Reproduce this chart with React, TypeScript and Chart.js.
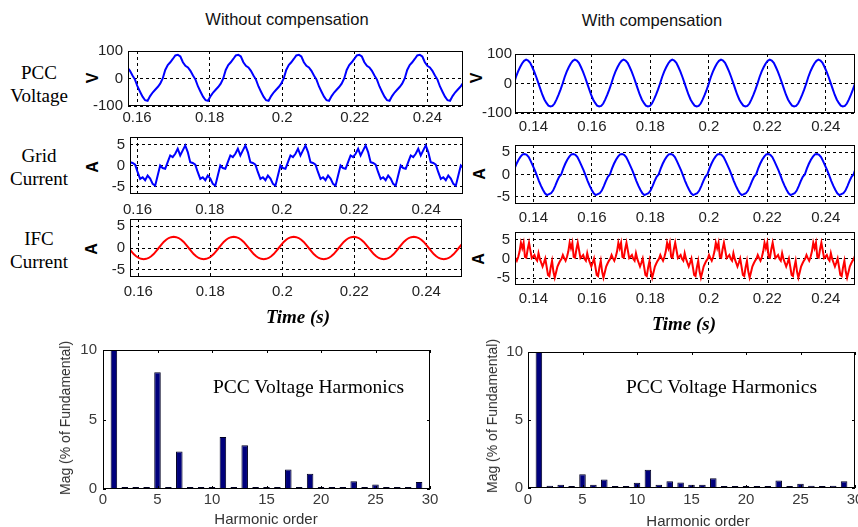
import React, { useEffect, useRef } from 'react';
import { Chart, registerables } from 'chart.js';

Chart.register(...registerables);

// ---------- DATA ----------
const leftTimeTicks = [0.16, 0.18, 0.2, 0.22, 0.24];
const rightTimeTicks = [0.14, 0.16, 0.18, 0.2, 0.22, 0.24];
const voltageTicks = [-100, 0, 100];
const currentTicks = [-5, 0, 5];
const harmonicTicks = [0, 5, 10, 15, 20, 25, 30];
const magnitudeTicks = [0, 5, 10];

const FUNDAMENTAL_PERIOD = 1 / 60; // s (steady-state waveforms repeat every cycle)

// Without compensation: one read-off cycle per waveform (samples evenly spaced over a cycle)
const pccVoltageNoCompStart = 0.2004;
const pccVoltageNoComp = [0, 31, 49, 59, 71, 84, 86, 80, 59, 46, 40, 28, 11, -4, -29, -48, -66, -79, -81, -64, -51, -41, -31, -19];
const gridCurrentNoCompStart = 0.1996;
const gridCurrentNoComp = [0, -0.6, -0.8, 0.8, 2.4, 2.0, 2.8, 4.0, 2.4, 3.6, 4.8, 3.2, 0.8, 0.6, 0.2, -1.6, -3.2, -2.8, -3.5, -2.4, -3.1, -4.4, -4.8, -2.4];
const ifcCurrentNoCompStart = 0.199;
const ifcCurrentNoComp = [0, 0.7, 1.4, 1.9, 2.3, 2.5, 2.6, 2.5, 2.3, 1.9, 1.4, 0.7, 0, -0.7, -1.4, -1.9, -2.3, -2.5, -2.6, -2.5, -2.3, -1.9, -1.4, -0.7];

// With compensation
const pccVoltageCompStart = 0.2;
const pccVoltageComp = [0, 22, 40, 55, 68, 77, 81, 78, 70, 56, 40, 22, 2, -18, -38, -54, -66, -75, -78, -76, -68, -54, -38, -20];
const gridCurrentCompStart = 0.1995;
const gridCurrentComp = [0, 1.3, 2.4, 3.3, 4.0, 4.5, 4.6, 4.4, 3.9, 3.0, 2.0, 1.0, -0.2, -1.4, -2.5, -3.4, -4.2, -4.6, -4.4, -4.2, -3.6, -2.6, -1.5, -0.5];
const ifcCurrentCompStart = 0.201;
const ifcCurrentComp = [-0.5, 0.5, 1.9, 4.2, 2.8, 4.2, 0.5, 0.3, 2.5, 4.2, 2.2, 0.2, 0.6, 1.0, 0.0, -0.5, 1.5, 0.0, -1.0, -2.0, -1.0, 0.1, -2.0, -4.2, -4.5, -2.2, -0.5, -3.3, -4.9, -3.5, -2.0, -1.2, -0.5, 0.0, 1.0, 0.2];

// Harmonic spectra (% of fundamental)
const harmonicOrders = [1, 2, 3, 4, 5, 6, 7, 8, 9, 10, 11, 12, 13, 14, 15, 16, 17, 18, 19, 20, 21, 22, 23, 24, 25, 26, 27, 28, 29];
const magNoComp = [100, 0.05, 0.05, 0.05, 8.4, 0.05, 2.7, 0.05, 0.05, 0.05, 3.75, 0.05, 3.15, 0.05, 0.05, 0.05, 1.4, 0.05, 1.1, 0.05, 0.05, 0.05, 0.55, 0.05, 0.32, 0.05, 0.05, 0.05, 0.5];
const magComp = [100, 0.17, 0.24, 0.1, 1.02, 0.24, 0.63, 0.15, 0.15, 0.39, 1.34, 0.24, 0.49, 0.41, 0.24, 0.24, 0.71, 0.15, 0.15, 0.1, 0.15, 0.1, 0.56, 0.1, 0.32, 0.17, 0.1, 0.17, 0.49];

// ---------- HELPERS ----------
const SANS = "'Liberation Sans', Arial, Helvetica, sans-serif";
const SERIF = "'Liberation Serif', 'Times New Roman', Times, serif";

function periodicSeries(cycle: number[], start: number, xMin: number, xMax: number) {
  const n = cycle.length;
  const dt = FUNDAMENTAL_PERIOD / n;
  const iMin = Math.floor((xMin - start) / dt) - 1;
  const iMax = Math.ceil((xMax - start) / dt) + 1;
  const pts: { x: number; y: number }[] = [];
  for (let i = iMin; i <= iMax; i++) {
    pts.push({ x: start + i * dt, y: cycle[((i % n) + n) % n] });
  }
  return pts;
}

const framePlugin = {
  id: 'frame',
  afterDraw(chart: any, _args: any, opts: any) {
    const { ctx, chartArea: a } = chart;
    ctx.save();
    ctx.setLineDash([]);
    ctx.strokeStyle = '#000';
    ctx.lineWidth = 1;
    if (opts && opts.inwardTicks) {
      const L = 3;
      const xs = chart.scales.x;
      const ys = chart.scales.y;
      ctx.beginPath();
      xs.ticks.forEach((t: any) => {
        const px = Math.round(xs.getPixelForValue(t.value)) + 0.5;
        ctx.moveTo(px, a.bottom);
        ctx.lineTo(px, a.bottom - L);
        ctx.moveTo(px, a.top);
        ctx.lineTo(px, a.top + L);
      });
      ys.ticks.forEach((t: any) => {
        const py = Math.round(ys.getPixelForValue(t.value)) + 0.5;
        ctx.moveTo(a.left, py);
        ctx.lineTo(a.left + L, py);
        ctx.moveTo(a.right, py);
        ctx.lineTo(a.right - L, py);
      });
      ctx.stroke();
    }
    ctx.strokeRect(a.left + 0.5, a.top + 0.5, a.right - a.left - 1, a.bottom - a.top - 1);
    ctx.restore();
  },
};

type Layout = {
  box: [number, number, number, number];
  yW: number;
  padTop: number;
  padRight: number;
  xH: number;
  xPad: number;
  yPad: number;
};

function axisCommon(ticksArr: number[], fontSize: number, color: string, pad: number, isX: boolean, lay: Layout, gridOn: boolean) {
  return {
    type: 'linear',
    afterBuildTicks: (s: any) => {
      s.ticks = ticksArr.map((v) => ({ value: v }));
    },
    afterFit: (s: any) => {
      if (isX) {
        s.height = lay.xH;
        s.paddingLeft = 0;
        s.paddingRight = 0;
      } else {
        s.width = lay.yW;
        s.paddingTop = 0;
        s.paddingBottom = 0;
      }
    },
    grid: { display: gridOn, color: '#000', lineWidth: 1, drawTicks: false, offset: false },
    border: { display: false, dash: [3, 3] },
    ticks: {
      padding: pad,
      color,
      font: { family: SANS, size: fontSize },
      maxRotation: 0,
      autoSkip: false,
      callback: (v: any) => String(v),
    },
  };
}

function lineConfig(lay: Layout, pts: any[], color: string, xr: [number, number], yr: [number, number], xTicks: number[], yTicks: number[]) {
  const x: any = axisCommon(xTicks, 15, '#222', lay.xPad, true, lay, true);
  x.min = xr[0];
  x.max = xr[1];
  const y: any = axisCommon(yTicks, 15, '#222', lay.yPad, false, lay, true);
  y.min = yr[0];
  y.max = yr[1];
  return {
    type: 'line',
    data: {
      datasets: [
        { data: pts, borderColor: color, borderWidth: 2, pointRadius: 0, tension: 0, fill: false, clip: 0 },
      ],
    },
    options: {
      animation: false,
      responsive: false,
      devicePixelRatio: 1,
      layout: { padding: { top: lay.padTop, right: lay.padRight, left: 0, bottom: 0 } },
      plugins: { legend: { display: false }, tooltip: { enabled: false }, frame: {} },
      scales: { x, y },
    },
    plugins: [framePlugin],
  };
}

function barConfig(lay: Layout, mags: number[]) {
  const x: any = axisCommon(harmonicTicks, 15, '#3a3a3a', lay.xPad, true, lay, false);
  x.min = 0;
  x.max = 30;
  x.offset = false;
  const y: any = axisCommon(magnitudeTicks, 15, '#3a3a3a', lay.yPad, false, lay, false);
  y.min = 0;
  y.max = 10;
  return {
    type: 'bar',
    data: {
      datasets: [
        {
          data: harmonicOrders.map((h, i) => ({ x: h, y: mags[i] })),
          backgroundColor: '#00007c',
          borderColor: '#000022',
          borderWidth: 1,
          barPercentage: 0.6,
          categoryPercentage: 1,
          minBarLength: 2,
          clip: 0,
        },
      ],
    },
    options: {
      animation: false,
      responsive: false,
      devicePixelRatio: 1,
      layout: { padding: { top: lay.padTop, right: lay.padRight, left: 0, bottom: 0 } },
      plugins: { legend: { display: false }, tooltip: { enabled: false }, frame: { inwardTicks: true } },
      scales: { x, y },
    },
    plugins: [framePlugin],
  };
}

function ChartBox({ lay, build }: { lay: Layout; build: () => any }) {
  const ref = useRef<HTMLCanvasElement>(null);
  const [l, t, r, b] = lay.box;
  const w = r - l + lay.yW + lay.padRight;
  const h = b - t + lay.padTop + lay.xH;
  useEffect(() => {
    const chart = new Chart(ref.current as HTMLCanvasElement, build());
    return () => chart.destroy();
  }, []);
  return (
    <canvas
      ref={ref}
      width={w}
      height={h}
      style={{ position: 'absolute', left: l - lay.yW, top: t - lay.padTop, width: w, height: h }}
    />
  );
}

function Txt(props: { x: number; y: number; children: React.ReactNode; font: string; rotate?: boolean; color?: string; lh?: string }) {
  return (
    <div
      style={{
        position: 'absolute',
        left: props.x,
        top: props.y,
        transform: `translate(-50%, -50%)${props.rotate ? ' rotate(-90deg)' : ''}`,
        font: props.font,
        color: props.color || '#000',
        whiteSpace: 'nowrap',
        textAlign: 'center',
        lineHeight: props.lh || '1',
      }}
    >
      {props.children}
    </div>
  );
}

// ---------- LAYOUT ----------
const L1: Layout = { box: [128, 51, 463, 106], yW: 50, padTop: 10, padRight: 8, xH: 24, xPad: 3, yPad: 5 };
const L2: Layout = { box: [130, 137, 463, 194], yW: 50, padTop: 10, padRight: 8, xH: 27, xPad: 7, yPad: 5 };
const L3: Layout = { box: [130, 219, 462, 277], yW: 50, padTop: 10, padRight: 8, xH: 26, xPad: 6, yPad: 5 };
const R1: Layout = { box: [515, 54, 855, 113], yW: 50, padTop: 10, padRight: 12, xH: 25, xPad: 5, yPad: 3 };
const R2: Layout = { box: [515, 145, 855, 204], yW: 50, padTop: 10, padRight: 12, xH: 25, xPad: 5, yPad: 5 };
const R3: Layout = { box: [515, 232, 855, 285], yW: 50, padTop: 10, padRight: 12, xH: 25, xPad: 5, yPad: 5 };
const BL: Layout = { box: [103, 350, 430, 489], yW: 40, padTop: 10, padRight: 14, xH: 22, xPad: 2, yPad: 6 };
const BR: Layout = { box: [528, 352, 855, 488], yW: 40, padTop: 10, padRight: 14, xH: 22, xPad: 3, yPad: 5 };

const L1x: [number, number] = [0.1575, 0.2498];
const L2x: [number, number] = [0.1579, 0.2502];
const L3x: [number, number] = [0.1577, 0.2499];
const Rx: [number, number] = [0.1337, 0.25];

export default function App() {
  const rowFont = `19px ${SERIF}`;
  const axFont = `bold 16px ${SANS}`;
  return (
    <div style={{ position: 'fixed', left: 0, top: 0, width: 858, height: 527, background: '#fff', overflow: 'hidden' }}>
      <Txt x={287} y={19} font={`16.5px ${SANS}`} color="#111">Without compensation</Txt>
      <Txt x={652} y={20} font={`16.5px ${SANS}`} color="#111">With compensation</Txt>

      <Txt x={39} y={84} font={rowFont} lh="23px">PCC<br />Voltage</Txt>
      <Txt x={39} y={166.5} font={rowFont} lh="23px">Grid<br />Current</Txt>
      <Txt x={39} y={249.5} font={rowFont} lh="23px">IFC<br />Current</Txt>

      <Txt x={93} y={78} font={axFont} rotate>V</Txt>
      <Txt x={92.5} y={166.5} font={axFont} rotate>A</Txt>
      <Txt x={91.5} y={248.5} font={axFont} rotate>A</Txt>
      <Txt x={476.5} y={78} font={axFont} rotate>V</Txt>
      <Txt x={480} y={174} font={axFont} rotate>A</Txt>
      <Txt x={479} y={259} font={axFont} rotate>A</Txt>

      <ChartBox lay={L1} build={() => lineConfig(L1, periodicSeries(pccVoltageNoComp, pccVoltageNoCompStart, L1x[0], L1x[1]), '#0000ff', L1x, [-100, 100], leftTimeTicks, voltageTicks)} />
      <ChartBox lay={L2} build={() => lineConfig(L2, periodicSeries(gridCurrentNoComp, gridCurrentNoCompStart, L2x[0], L2x[1]), '#0000ff', L2x, [-6.8, 6.8], leftTimeTicks, currentTicks)} />
      <ChartBox lay={L3} build={() => lineConfig(L3, periodicSeries(ifcCurrentNoComp, ifcCurrentNoCompStart, L3x[0], L3x[1]), '#ff0000', L3x, [-6.7, 6.7], leftTimeTicks, currentTicks)} />
      <ChartBox lay={R1} build={() => lineConfig(R1, periodicSeries(pccVoltageComp, pccVoltageCompStart, Rx[0], Rx[1]), '#0000ff', Rx, [-100, 100], rightTimeTicks, voltageTicks)} />
      <ChartBox lay={R2} build={() => lineConfig(R2, periodicSeries(gridCurrentComp, gridCurrentCompStart, Rx[0], Rx[1]), '#0000ff', Rx, [-6.6, 6.6], rightTimeTicks, currentTicks)} />
      <ChartBox lay={R3} build={() => lineConfig(R3, periodicSeries(ifcCurrentComp, ifcCurrentCompStart, Rx[0], Rx[1]), '#ff0000', Rx, [-6.8, 7.0], rightTimeTicks, currentTicks)} />
      <ChartBox lay={BL} build={() => barConfig(BL, magNoComp)} />
      <ChartBox lay={BR} build={() => barConfig(BR, magComp)} />

      <Txt x={298} y={316} font={`italic bold 19px ${SERIF}`}>Time (s)</Txt>
      <Txt x={684} y={323} font={`italic bold 19px ${SERIF}`}>Time (s)</Txt>

      <Txt x={308.5} y={387} font={`19.5px ${SERIF}`}>PCC Voltage Harmonics</Txt>
      <Txt x={721.5} y={387} font={`19.5px ${SERIF}`}>PCC Voltage Harmonics</Txt>

      <Txt x={266} y={518} font={`15px ${SANS}`} color="#333">Harmonic order</Txt>
      <Txt x={698} y={520} font={`15px ${SANS}`} color="#333">Harmonic order</Txt>
      <Txt x={65} y={418} font={`14px ${SANS}`} color="#333" rotate>Mag (% of Fundamental)</Txt>
      <Txt x={491.5} y={416} font={`14px ${SANS}`} color="#333" rotate>Mag (% of Fundamental)</Txt>
    </div>
  );
}
